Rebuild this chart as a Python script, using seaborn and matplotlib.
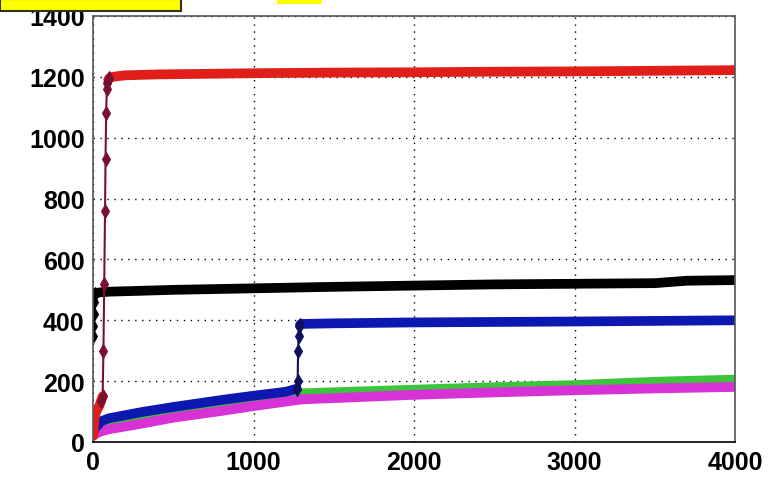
import matplotlib
matplotlib.use("Agg")
import matplotlib.pyplot as plt
import seaborn as sns
import pandas as pd
from matplotlib.patches import Rectangle

sns.set_style("white")
plt.rcParams['font.family'] = ['Liberation Sans', 'DejaVu Sans']

# ---- data ----
red_x = [0, 5, 10, 20, 30, 40, 50, 60, 65, 70, 75, 78, 82, 86, 90, 95, 100, 120, 150, 200, 400, 700, 1000, 1500, 2000, 2500, 3000, 3500, 4000]
red_y = [20, 50, 80, 100, 110, 120, 135, 150, 300, 520, 760, 930, 1080, 1160, 1180, 1190, 1195, 1200, 1202, 1205, 1208, 1210, 1212, 1214, 1215, 1217, 1218, 1220, 1222]

black_x = [0, 2, 4, 6, 8, 10, 20, 50, 100, 500, 1000, 1500, 2000, 2500, 3000, 3500, 3700, 4000]
black_y = [350, 380, 420, 460, 480, 488, 490, 492, 494, 500, 505, 510, 514, 518, 520, 522, 530, 532]

blue_x = [0, 10, 30, 50, 100, 300, 500, 800, 1000, 1200, 1270, 1275, 1278, 1281, 1284, 1290, 1300, 1500, 2000, 3000, 4000]
blue_y = [30, 45, 55, 68, 78, 98, 115, 138, 152, 165, 175, 200, 300, 350, 380, 385, 388, 390, 393, 396, 400]

green_x = [0, 20, 50, 100, 300, 500, 800, 1000, 1300, 2000, 2500, 3000, 3500, 4000]
green_y = [30, 40, 50, 58, 75, 95, 120, 140, 160, 172, 180, 187, 198, 205]

magenta_x = [0, 20, 50, 100, 300, 500, 800, 1000, 1300, 2000, 2500, 3000, 3500, 4000]
magenta_y = [20, 28, 35, 42, 60, 80, 102, 118, 140, 155, 163, 170, 176, 181]

x_ticks = [0, 1000, 2000, 3000, 4000]
y_ticks = [0, 200, 400, 600, 800, 1000, 1200, 1400]

# (name, x, y, colour, marker colour, thin-with-markers range, thick index ranges)
series = [
    ("green", green_x, green_y, "#3cc43c", "#3cc43c", None, [(0, None)]),
    ("magenta", magenta_x, magenta_y, "#d632d6", "#d632d6", None, [(0, None)]),
    ("blue", blue_x, blue_y, "#0c18b0", "#101060", (10, 16), [(0, 11), (15, None)]),
    ("black", black_x, black_y, "#000000", "#000000", (0, 6), [(5, None)]),
    ("red", red_x, red_y, "#e01e1a", "#7a1030", (6, 17), [(0, 8), (15, None)]),
]

fig = plt.figure(figsize=(7.76, 4.85), dpi=100)
ax = fig.add_axes([93/776, 42/485, 642/776, 426/485])

for name, xs, ys, col, mcol, thin, thick in series:
    df = pd.DataFrame({"x": xs, "y": ys})
    for a, b in thick:
        sns.lineplot(data=df.iloc[a:b], x="x", y="y", ax=ax, color=col, linewidth=7,
                     sort=False, estimator=None, solid_joinstyle="round",
                     solid_capstyle="round")
    if thin:
        a, b = thin
        sns.lineplot(data=df.iloc[a:b], x="x", y="y", ax=ax, color=mcol, linewidth=1.5,
                     sort=False, estimator=None, marker="d", markersize=7,
                     markerfacecolor=mcol, markeredgecolor=mcol)

ax.set_xlim(0, 4000)
ax.set_ylim(0, 1400)
ax.set_xticks(x_ticks)
ax.set_yticks(y_ticks)
ax.set_xticklabels([str(v) for v in x_ticks])
ax.set_yticklabels([str(v) for v in y_ticks])
ax.set_xlabel("")
ax.set_ylabel("")
ax.grid(True, color="black", linestyle=(0, (1, 4)), linewidth=1.0)
ax.tick_params(direction="in", length=4, labelsize=18, pad=6, colors="black")
for lab in ax.get_xticklabels() + ax.get_yticklabels():
    lab.set_fontweight("bold")
for s in ax.spines.values():
    s.set_color("#555555")
    s.set_linewidth(1.2)
ax.spines["bottom"].set_color("black")

# cut-off yellow boxes at the top
fig.patches.append(Rectangle((0, 473/485), 181/776, 12/485, transform=fig.transFigure,
                             facecolor="#ffff00", edgecolor="#333300", linewidth=1.5, zorder=10))
fig.patches.append(Rectangle((277/776, 480/485), 45/776, 5/485, transform=fig.transFigure,
                             facecolor="#ffff00", edgecolor="none", zorder=10))

fig.savefig("out.png", dpi=100)
